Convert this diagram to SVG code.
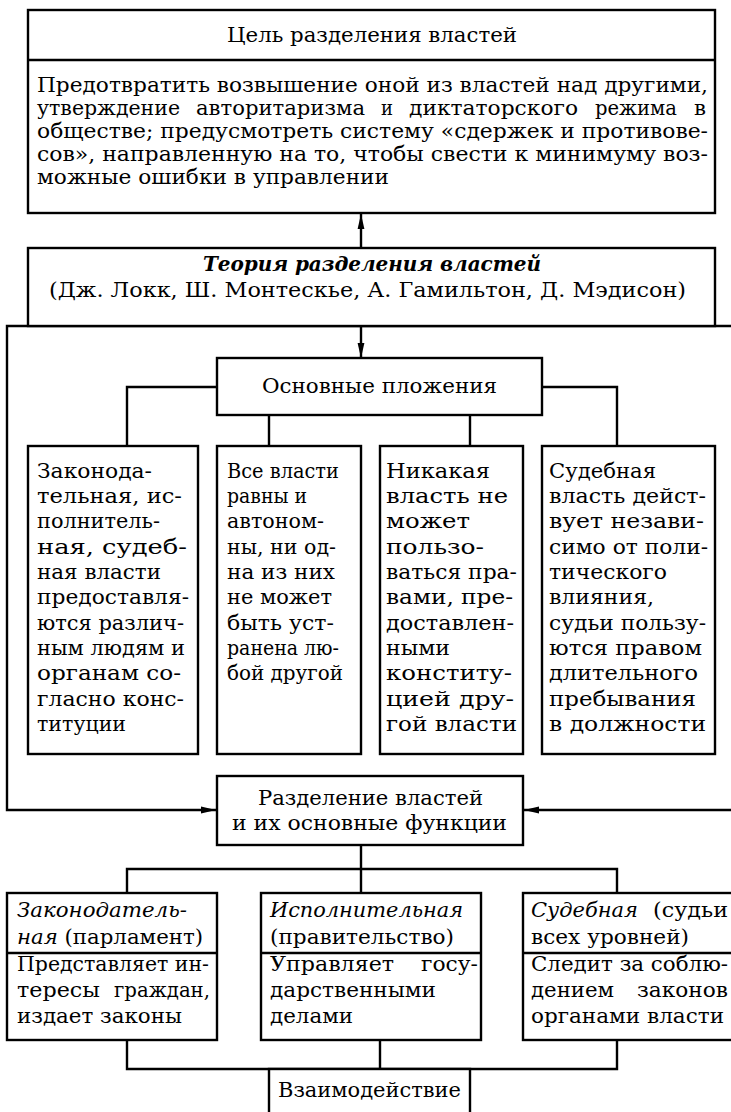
<svg xmlns="http://www.w3.org/2000/svg" width="731" height="1112" viewBox="0 0 731 1112">
<style>
.b{fill:#fff;stroke:#000;stroke-width:2.4}
.c{fill:none;stroke:#000;stroke-width:2.4}
text{font-family:"DejaVu Serif","Liberation Serif",serif;font-size:20px;fill:#000}
.tc{font-size:21px}
.i{font-style:italic}
.bi{font-weight:bold;font-style:italic}
</style>
<defs>
<marker id="ah" markerUnits="userSpaceOnUse" markerWidth="16" markerHeight="8" refX="15" refY="4" orient="auto"><path d="M0,0.6 L15,4 L0,7.4 z" fill="#000"/></marker>
</defs>
<rect width="731" height="1112" fill="#fff"/>

<g id="connectors">
<line class="c" x1="361" y1="248" x2="361" y2="214" marker-end="url(#ah)"/>
<line class="c" x1="361" y1="326" x2="361" y2="358" marker-end="url(#ah)"/>
<path class="c" d="M731,326 H7 V810 H216" marker-end="url(#ah)"/>
<path class="c" d="M731,810 H524" marker-end="url(#ah)"/>
<path class="c" d="M217,387 H127 V446 M542,387 H617 V446 M269,415 V446 M470,415 V446"/>
<path class="c" d="M361,845 V893 M127,893 V869 H617 V893"/>
<path class="c" d="M127,1040 V1069 H617 V1040 M380,1040 V1069"/>
</g>

<g id="goal">
<rect class="b" x="28" y="10" width="687" height="203"/>
<line class="c" x1="28" y1="60" x2="715" y2="60"/>
<text x="227" y="42" textLength="290" lengthAdjust="spacingAndGlyphs">Цель разделения властей</text>
<text x="37" y="92" textLength="671" lengthAdjust="spacingAndGlyphs">Предотвратить возвышение оной из властей над другими,</text>
<text x="37" y="115" textLength="143" lengthAdjust="spacingAndGlyphs">утверждение</text>
<text x="196" y="115" textLength="169" lengthAdjust="spacingAndGlyphs">авторитаризма</text>
<text x="381" y="115" textLength="12" lengthAdjust="spacingAndGlyphs">и</text>
<text x="409" y="115" textLength="169" lengthAdjust="spacingAndGlyphs">диктаторского</text>
<text x="595" y="115" textLength="82" lengthAdjust="spacingAndGlyphs">режима</text>
<text x="694" y="115" textLength="12" lengthAdjust="spacingAndGlyphs">в</text>
<text x="37" y="138" textLength="671" lengthAdjust="spacingAndGlyphs">обществе; предусмотреть систему «сдержек и противове-</text>
<text x="37" y="161" textLength="671" lengthAdjust="spacingAndGlyphs">сов», направленную на то, чтобы свести к минимуму воз-</text>
<text x="37" y="184" textLength="352" lengthAdjust="spacingAndGlyphs">можные ошибки в управлении</text>
</g>

<g id="theory">
<rect class="b" x="28" y="248" width="687" height="78"/>
<text class="bi" x="203" y="271" textLength="338" lengthAdjust="spacing">Теория разделения властей</text>
<text x="49" y="297" textLength="637" lengthAdjust="spacingAndGlyphs">(Дж. Локк, Ш. Монтескье, А. Гамильтон, Д. Мэдисон)</text>
</g>

<g id="principles">
<rect class="b" x="217" y="358" width="325" height="57"/>
<text x="262" y="393" textLength="235" lengthAdjust="spacingAndGlyphs">Основные пложения</text>
</g>

<g id="p1">
<rect class="b" x="28" y="446" width="170" height="308"/>
<text class="tc" x="37" y="478" textLength="115" lengthAdjust="spacingAndGlyphs">Законода-</text>
<text class="tc" x="37" y="503" textLength="145" lengthAdjust="spacingAndGlyphs">тельная, ис-</text>
<text class="tc" x="37" y="528" textLength="123" lengthAdjust="spacingAndGlyphs">полнитель-</text>
<text class="tc" x="37" y="554" textLength="150" lengthAdjust="spacingAndGlyphs">ная, судеб-</text>
<text class="tc" x="37" y="579" textLength="124" lengthAdjust="spacingAndGlyphs">ная власти</text>
<text class="tc" x="37" y="604" textLength="152" lengthAdjust="spacingAndGlyphs">предоставля-</text>
<text class="tc" x="37" y="630" textLength="147" lengthAdjust="spacingAndGlyphs">ются различ-</text>
<text class="tc" x="37" y="655" textLength="148" lengthAdjust="spacingAndGlyphs">ным людям и</text>
<text class="tc" x="37" y="680" textLength="144" lengthAdjust="spacingAndGlyphs">органам со-</text>
<text class="tc" x="37" y="706" textLength="147" lengthAdjust="spacingAndGlyphs">гласно конс-</text>
<text class="tc" x="37" y="731" textLength="89" lengthAdjust="spacingAndGlyphs">титуции</text>
</g>

<g id="p2">
<rect class="b" x="217" y="446" width="144" height="308"/>
<text class="tc" x="227" y="478" textLength="112" lengthAdjust="spacingAndGlyphs">Все власти</text>
<text class="tc" x="227" y="503" textLength="80" lengthAdjust="spacingAndGlyphs">равны и</text>
<text class="tc" x="227" y="528" textLength="97" lengthAdjust="spacingAndGlyphs">автоном-</text>
<text class="tc" x="227" y="554" textLength="109" lengthAdjust="spacingAndGlyphs">ны, ни од-</text>
<text class="tc" x="227" y="579" textLength="108" lengthAdjust="spacingAndGlyphs">на из них</text>
<text class="tc" x="227" y="604" textLength="105" lengthAdjust="spacingAndGlyphs">не может</text>
<text class="tc" x="227" y="630" textLength="107" lengthAdjust="spacingAndGlyphs">быть уст-</text>
<text class="tc" x="227" y="655" textLength="112" lengthAdjust="spacingAndGlyphs">ранена лю-</text>
<text class="tc" x="227" y="680" textLength="116" lengthAdjust="spacingAndGlyphs">бой другой</text>
</g>

<g id="p3">
<rect class="b" x="380" y="446" width="143" height="308"/>
<text class="tc" x="386" y="478" textLength="104" lengthAdjust="spacingAndGlyphs">Никакая</text>
<text class="tc" x="386" y="503" textLength="122" lengthAdjust="spacingAndGlyphs">власть не</text>
<text class="tc" x="386" y="528" textLength="84" lengthAdjust="spacingAndGlyphs">может</text>
<text class="tc" x="386" y="554" textLength="98" lengthAdjust="spacingAndGlyphs">пользо-</text>
<text class="tc" x="386" y="579" textLength="131" lengthAdjust="spacingAndGlyphs">ваться пра-</text>
<text class="tc" x="386" y="604" textLength="127" lengthAdjust="spacingAndGlyphs">вами, пре-</text>
<text class="tc" x="386" y="630" textLength="128" lengthAdjust="spacingAndGlyphs">доставлен-</text>
<text class="tc" x="386" y="655" textLength="64" lengthAdjust="spacingAndGlyphs">ными</text>
<text class="tc" x="386" y="680" textLength="126" lengthAdjust="spacingAndGlyphs">конститу-</text>
<text class="tc" x="386" y="706" textLength="128" lengthAdjust="spacingAndGlyphs">цией дру-</text>
<text class="tc" x="386" y="731" textLength="131" lengthAdjust="spacingAndGlyphs">гой власти</text>
</g>

<g id="p4">
<rect class="b" x="542" y="446" width="173" height="308"/>
<text class="tc" x="549" y="478" textLength="107" lengthAdjust="spacingAndGlyphs">Судебная</text>
<text class="tc" x="549" y="503" textLength="157" lengthAdjust="spacingAndGlyphs">власть дейст-</text>
<text class="tc" x="549" y="528" textLength="155" lengthAdjust="spacingAndGlyphs">вует незави-</text>
<text class="tc" x="549" y="554" textLength="159" lengthAdjust="spacingAndGlyphs">симо от поли-</text>
<text class="tc" x="549" y="579" textLength="118" lengthAdjust="spacingAndGlyphs">тического</text>
<text class="tc" x="549" y="604" textLength="105" lengthAdjust="spacingAndGlyphs">влияния,</text>
<text class="tc" x="549" y="630" textLength="157" lengthAdjust="spacingAndGlyphs">судьи пользу-</text>
<text class="tc" x="549" y="655" textLength="153" lengthAdjust="spacingAndGlyphs">ются правом</text>
<text class="tc" x="549" y="680" textLength="149" lengthAdjust="spacingAndGlyphs">длительного</text>
<text class="tc" x="549" y="706" textLength="147" lengthAdjust="spacingAndGlyphs">пребывания</text>
<text class="tc" x="549" y="731" textLength="157" lengthAdjust="spacingAndGlyphs">в должности</text>
</g>

<g id="separation">
<rect class="b" x="217" y="776" width="306" height="69"/>
<text x="258" y="805" textLength="225" lengthAdjust="spacingAndGlyphs">Разделение властей</text>
<text x="232" y="830" textLength="275" lengthAdjust="spacingAndGlyphs">и их основные функции</text>
</g>

<g id="legislative">
<rect class="b" x="7" y="893" width="210" height="147"/>
<line class="c" x1="7" y1="953" x2="217" y2="953"/>
<text class="i" x="17" y="917" textLength="170" lengthAdjust="spacingAndGlyphs">Законодатель-</text>
<text x="17" y="944" textLength="186" lengthAdjust="spacingAndGlyphs"><tspan class="i">ная</tspan> (парламент)</text>
<text x="17" y="971" textLength="192" lengthAdjust="spacingAndGlyphs">Представляет ин-</text>
<text x="17" y="997" textLength="83" lengthAdjust="spacingAndGlyphs">тересы</text>
<text x="114" y="997" textLength="96" lengthAdjust="spacingAndGlyphs">граждан,</text>
<text x="17" y="1023" textLength="165" lengthAdjust="spacingAndGlyphs">издает законы</text>
</g>

<g id="executive">
<rect class="b" x="261" y="893" width="220" height="147"/>
<line class="c" x1="261" y1="953" x2="481" y2="953"/>
<text class="i" x="270" y="917" textLength="193" lengthAdjust="spacingAndGlyphs">Исполнительная</text>
<text x="270" y="944" textLength="184" lengthAdjust="spacingAndGlyphs">(правительство)</text>
<text x="270" y="971" textLength="124" lengthAdjust="spacingAndGlyphs">Управляет</text>
<text x="421" y="971" textLength="57" lengthAdjust="spacingAndGlyphs">госу-</text>
<text x="270" y="997" textLength="166" lengthAdjust="spacingAndGlyphs">дарственными</text>
<text x="270" y="1023" textLength="83" lengthAdjust="spacingAndGlyphs">делами</text>
</g>

<g id="judicial">
<rect class="b" x="523" y="893" width="217" height="147"/>
<line class="c" x1="523" y1="953" x2="740" y2="953"/>
<text class="i" x="531" y="917" textLength="107" lengthAdjust="spacingAndGlyphs">Судебная</text>
<text x="653" y="917" textLength="75" lengthAdjust="spacingAndGlyphs">(судьи</text>
<text x="531" y="944" textLength="158" lengthAdjust="spacingAndGlyphs">всех уровней)</text>
<text x="531" y="971" textLength="197" lengthAdjust="spacingAndGlyphs">Следит за соблю-</text>
<text x="531" y="997" textLength="83" lengthAdjust="spacingAndGlyphs">дением</text>
<text x="637" y="997" textLength="91" lengthAdjust="spacingAndGlyphs">законов</text>
<text x="531" y="1023" textLength="193" lengthAdjust="spacingAndGlyphs">органами власти</text>
</g>

<g id="interaction">
<rect class="b" x="269" y="1069" width="201" height="55"/>
<text x="278" y="1097" textLength="183" lengthAdjust="spacingAndGlyphs">Взаимодействие</text>
</g>
</svg>
